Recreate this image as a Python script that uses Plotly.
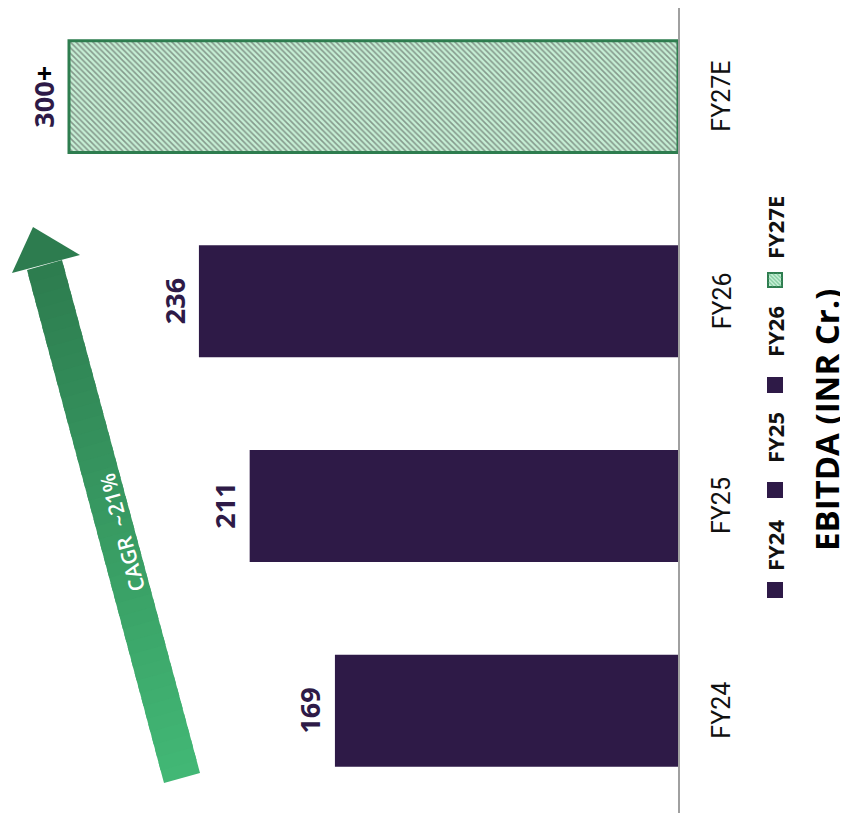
import plotly.graph_objects as go

categories = ["FY24", "FY25", "FY26", "FY27E"]
ebitda = [169, 211, 236, 300]
value_labels = ["169", "211", "236", "300<span style='color:#000000'>+</span>"]
title_text = "EBITDA (INR Cr.)"
cagr_text = "CAGR  ~21%"

PURPLE = "#2E1A47"
GREEN_DARK = "#2E7D4F"
HATCH_BG = "#C6EFD5"
HATCH_FG = "#8ACFA6"

OFF = 8  # page body margin
W, H = 840, 813
ML, MR, MT, MB = 0, 170, 0, 8
PW, PH = W - ML - MR, H - MT - MB


def px(x):
    return (x - OFF - ML) / PW


def py(y):
    return 1 - (y - OFF - MT) / PH


colors = [PURPLE, PURPLE, PURPLE, HATCH_BG]
shapes_pat = ["", "", "", "\\"]
line_cols = [PURPLE, PURPLE, PURPLE, GREEN_DARK]
line_w = [0, 0, 0, 3]

fig = go.Figure()
fig.add_trace(go.Bar(
    y=categories, x=ebitda, orientation="h",
    marker=dict(color=colors,
                line=dict(color=line_cols, width=line_w),
                pattern=dict(shape=shapes_pat, fgcolor=HATCH_FG, bgcolor=HATCH_BG,
                             size=4, solidity=0.4)),
    showlegend=False, hoverinfo="skip",
))

annotations = []
for c, v, lab in zip(categories, ebitda, value_labels):
    annotations.append(dict(
        x=v, y=c, xref="x", yref="y", text=lab, showarrow=False,
        textangle=-90, xanchor="center", yanchor="middle", xshift=-25,
        font=dict(family="Open Sans", size=27, color=PURPLE, weight="bold"),
    ))

# category tick labels (rotated)
for c in categories:
    annotations.append(dict(
        x=px(722), y=c, xref="paper", yref="y", text=c, showarrow=False,
        textangle=-90, xanchor="center", yanchor="middle",
        font=dict(family="Liberation Sans Narrow, Roboto", size=25, color="#111111"),
    ))

# legend (rotated)
leg_items = [("FY24", 546, 590), ("FY25", 438, 490), ("FY26", 332, 385), ("FY27E", 228, 280)]
shapes = []
for i, (name, ty, sy) in enumerate(leg_items):
    annotations.append(dict(
        x=px(775), y=py(ty), xref="paper", yref="paper", text=name, showarrow=False,
        textangle=-90, xanchor="center", yanchor="middle",
        font=dict(family="Open Sans", size=22, color="#111111", weight="bold"),
    ))
    if i < 3:
        shapes.append(dict(type="rect", xref="paper", yref="paper",
                           x0=px(767), x1=px(783), y0=py(sy + 8), y1=py(sy - 8),
                           fillcolor=PURPLE, line=dict(width=0)))
    else:
        shapes.append(dict(type="rect", xref="paper", yref="paper",
                           x0=px(768), x1=px(782), y0=py(sy + 7), y1=py(sy - 7),
                           fillcolor=HATCH_BG, line=dict(color=GREEN_DARK, width=2)))
        for k in range(-2, 3):
            o = k * 4
            shapes.append(dict(type="line", xref="paper", yref="paper",
                               x0=px(769 + max(0, o)), y0=py(sy - 6 + max(0, -o)),
                               x1=px(781 - max(0, -o)), y1=py(sy + 6 - max(0, o)),
                               line=dict(color=HATCH_FG, width=1.5)))

annotations.append(dict(
    x=px(826), y=py(420), xref="paper", yref="paper", text=title_text, showarrow=False,
    textangle=-90, xanchor="center", yanchor="middle",
    font=dict(family="Open Sans", size=33, color="#000000", weight="bold"),
))

# gradient arrow
L0, L1 = (164, 783), (27, 270)
R0, R1 = (200, 773), (62, 260)
c0 = (66, 184, 117)
c1 = (45, 124, 79)
N = 40
for i in range(N):
    t0 = i / N
    t1 = min((i + 1.6) / N, 1.0)
    tm = (i + 0.5) / N
    col = tuple(int(round(c0[j] + (c1[j] - c0[j]) * tm)) for j in range(3))
    pts = [
        (L0[0] + (L1[0] - L0[0]) * t0, L0[1] + (L1[1] - L0[1]) * t0),
        (R0[0] + (R1[0] - R0[0]) * t0, R0[1] + (R1[1] - R0[1]) * t0),
        (R0[0] + (R1[0] - R0[0]) * t1, R0[1] + (R1[1] - R0[1]) * t1),
        (L0[0] + (L1[0] - L0[0]) * t1, L0[1] + (L1[1] - L0[1]) * t1),
    ]
    path = "M " + " L ".join(f"{px(a):.5f},{py(b):.5f}" for a, b in pts) + " Z"
    shapes.append(dict(type="path", xref="paper", yref="paper", path=path,
                       fillcolor=f"rgb{col}", line=dict(width=0)))
head = [(12, 273), (33, 227), (80, 255)]
shapes.append(dict(type="path", xref="paper", yref="paper",
                   path="M " + " L ".join(f"{px(a):.5f},{py(b):.5f}" for a, b in head) + " Z",
                   fillcolor=f"rgb{c1}", line=dict(width=0)))

annotations.append(dict(
    x=px(122), y=py(533), xref="paper", yref="paper", text=cagr_text, showarrow=False,
    textangle=-105, xanchor="center", yanchor="middle",
    font=dict(family="Open Sans", size=21, color="#FFFFFF", weight=600),
))

fig.update_layout(
    width=W, height=H,
    margin=dict(l=ML, r=MR, t=MT, b=MB),
    paper_bgcolor="white", plot_bgcolor="white",
    bargap=0.453,
    xaxis=dict(range=[PW / 2.03, 0], visible=False, showgrid=False, zeroline=False),
    yaxis=dict(categoryorder="array", categoryarray=categories, range=[-0.5, 3.433],
               side="right", showline=True, linecolor="#A0A0A0", linewidth=2,
               showticklabels=False, ticks="", showgrid=False, zeroline=False),
    annotations=annotations,
    shapes=shapes,
)

fig.write_html("out.html")
